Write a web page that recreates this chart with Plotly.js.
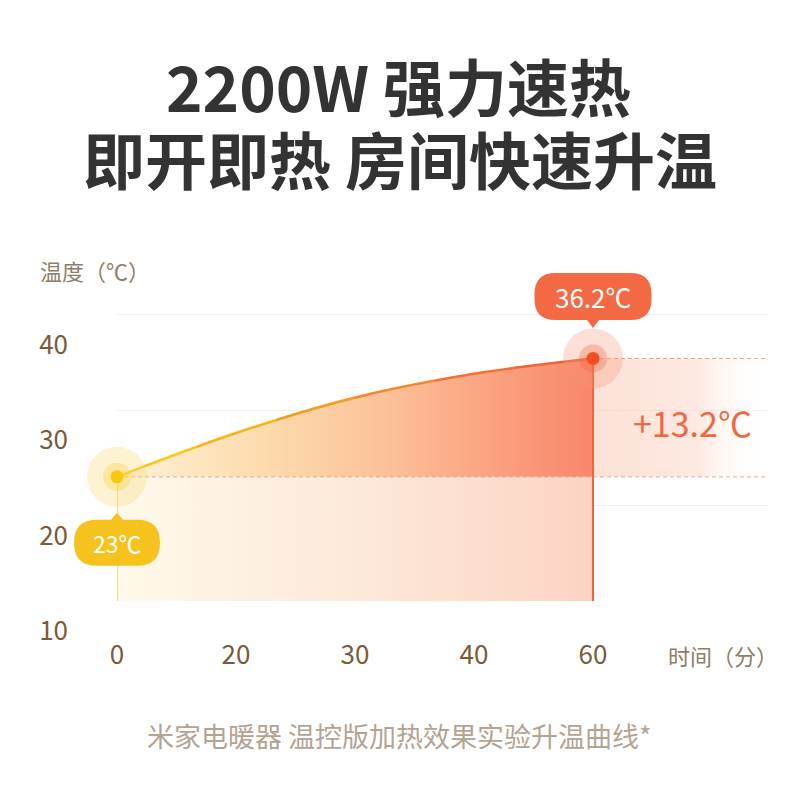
<!DOCTYPE html>
<html><head><meta charset="utf-8">
<script src="https://cdn.plot.ly/plotly-3.0.1.min.js"></script>
<style>html,body{margin:0;padding:0;background:#fff}#chart{width:800px;height:800px}</style>
</head><body><div id="chart"></div>
<script>
// ---- data ----
const timeLabels = ['0', '20', '30', '40', '60'];          // minutes (category ticks)
const temperature = [23, 27.6, 31.3, 33.8, 35.4];          // curve values
const yTickValues = [10, 20, 30, 40];
const yTickLabels = ['10', '20', '30', '40'];
const startLabel = '23℃';
const endLabel = '36.2℃';
const riseLabel = '+13.2℃';
const titleLines = ['2200W 强力速热', '即开即热 房间快速升温'];
const yTitle = '温度（℃）';
const xTitle = '时间（分）';
const footnote = '米家电暖器 温控版加热效果实验升温曲线*';

// ---- styling / layout constants ----
const FONT = '"Noto Sans CJK SC", "Noto Sans", sans-serif';
const X_MAX = 5.462;
const Y_MIN = 10, Y_MAX = 41;
const segColors = ['#f8c814', '#f7b41c', '#f69d24', '#f5862b', '#f37231', '#f26234'];

const idx = timeLabels.map((_, i) => i);
const n = idx.length;
const x0 = idx[0], xN = idx[n - 1];
const y0 = temperature[0], yN = temperature[n - 1];

const traces = [];
// lower fill (below start temperature)
traces.push({
  x: [x0, xN], y: [y0, y0], mode: 'lines', line: {width: 0},
  fill: 'tozeroy',
  fillgradient: {type: 'horizontal', colorscale: [[0, '#fef9ea'], [0.5, '#fde9da'], [1, '#fcd3c3']]},
  hoverinfo: 'skip', showlegend: false
});
// upper fill (between start level and curve)
traces.push({
  x: idx, y: temperature, mode: 'lines', line: {width: 0, shape: 'spline'},
  fill: 'tonexty',
  fillgradient: {type: 'horizontal', colorscale: [[0, '#fdf1d6'], [0.3, '#fcdcae'], [0.55, '#fcc39a'], [0.8, '#fba080'], [1, '#f8866a']]},
  hoverinfo: 'skip', showlegend: false
});
// right band showing the rise
traces.push({
  x: [xN, X_MAX], y: [y0, y0], mode: 'lines', line: {width: 0},
  hoverinfo: 'skip', showlegend: false
});
traces.push({
  x: [xN, X_MAX], y: [yN, yN], mode: 'lines', line: {width: 0},
  fill: 'tonexty',
  fillgradient: {type: 'horizontal', colorscale: [[0, 'rgba(251,205,186,0.6)'], [0.6, 'rgba(251,212,195,0.5)'], [1, 'rgba(255,255,255,0)']]},
  hoverinfo: 'skip', showlegend: false
});
// dashed reference lines
traces.push({
  x: [x0, X_MAX], y: [y0, y0], mode: 'lines',
  line: {width: 1, color: 'rgba(236,140,105,0.75)', dash: '4px,3px'},
  hoverinfo: 'skip', showlegend: false
});
traces.push({
  x: [xN, X_MAX], y: [yN, yN], mode: 'lines',
  line: {width: 1, color: 'rgba(236,120,90,0.7)', dash: '4px,3px'},
  hoverinfo: 'skip', showlegend: false
});
// vertical drop lines
traces.push({
  x: [x0, x0], y: [Y_MIN, y0], mode: 'lines',
  line: {width: 1.5, color: '#f7cf55'}, hoverinfo: 'skip', showlegend: false
});
traces.push({
  x: [xN, xN], y: [Y_MIN, yN], mode: 'lines',
  line: {width: 2, color: '#f2653a'}, hoverinfo: 'skip', showlegend: false
});

const layout = {
  width: 800, height: 800,
  margin: {l: 117, r: 33, t: 305, b: 199},
  paper_bgcolor: '#ffffff', plot_bgcolor: 'rgba(0,0,0,0)',
  showlegend: false, hovermode: false,
  font: {family: FONT},
  xaxis: {
    domain: [0, 1], range: [0, X_MAX], tickvals: idx, ticktext: timeLabels,
    showgrid: false, zeroline: false, showline: false, ticks: '',
    tickfont: {size: 26, color: '#7b5a3a', family: FONT}, ticklabelstandoff: 36
  },
  yaxis: {
    domain: [0, 1], range: [Y_MIN, Y_MAX], tickvals: yTickValues, ticktext: yTickLabels,
    showgrid: true, gridcolor: '#f3eee9', gridwidth: 1, zeroline: false, showline: false, ticks: '',
    tickfont: {size: 26, color: '#7b5a3a', family: FONT},
    ticklabelshift: 30, ticklabelstandoff: 48
  },
  shapes: [], annotations: []
};

// curve line drawn in colour segments (same scale, clipped sub-domains)
const N = segColors.length;
for (let k = 0; k < N; k++) {
  const a = xN * k / N, b = xN * (k + 1) / N;
  const id = k + 2;
  layout['xaxis' + id] = {domain: [a / X_MAX, b / X_MAX], range: [a, b], visible: false, anchor: 'y' + id, fixedrange: true};
  layout['yaxis' + id] = {domain: [0, 1], range: [Y_MIN, Y_MAX], visible: false, anchor: 'x' + id, fixedrange: true};
  traces.push({
    x: idx, y: temperature, xaxis: 'x' + id, yaxis: 'y' + id, mode: 'lines',
    line: {shape: 'spline', width: 2.6, color: segColors[k]},
    hoverinfo: 'skip', showlegend: false
  });
}
// markers on top
const mId = N + 2;
layout['xaxis' + mId] = {domain: [0, 1], range: [0, X_MAX], visible: false, anchor: 'y' + mId, fixedrange: true};
layout['yaxis' + mId] = {domain: [0, 1], range: [Y_MIN, Y_MAX], visible: false, anchor: 'x' + mId, fixedrange: true};
const ends = {x: [x0, xN], y: [y0, yN]};
[[60, ['rgba(250,222,130,0.35)', 'rgba(246,150,120,0.3)']],
 [28, ['rgba(248,205,60,0.35)', 'rgba(242,95,55,0.3)']],
 [13, ['#f8c70f', '#f24e22']]].forEach(([sz, cols]) => {
  traces.push({
    x: ends.x, y: ends.y, xaxis: 'x' + mId, yaxis: 'y' + mId, mode: 'markers',
    marker: {size: sz, color: cols, line: {width: 0}}, cliponaxis: false,
    hoverinfo: 'skip', showlegend: false
  });
});

// pills (rounded callouts) in paper coordinates anchored at the data points
function pill(cx, cy, w, h, r, tip) {
  const L = cx - w / 2, R = cx + w / 2, T = cy + h / 2, B = cy - h / 2;
  let p = `M ${L + r} ${T} `;
  if (tip === 'up') p += `L ${cx - 6} ${T} L ${cx} ${T + 7} L ${cx + 6} ${T} `;
  p += `L ${R - r} ${T} Q ${R} ${T} ${R} ${T - r} L ${R} ${B + r} Q ${R} ${B} ${R - r} ${B} `;
  if (tip === 'down') p += `L ${cx + 6} ${B} L ${cx} ${B - 8} L ${cx - 6} ${B} `;
  p += `L ${L + r} ${B} Q ${L} ${B} ${L} ${B + r} L ${L} ${T - r} Q ${L} ${T} ${L + r} ${T} Z`;
  return p;
}
const px = v => v / X_MAX;
const py = v => (v - Y_MIN) / (Y_MAX - Y_MIN);
layout.shapes.push({
  type: 'path', xref: 'paper', yref: 'paper', xsizemode: 'pixel', ysizemode: 'pixel',
  xanchor: px(x0), yanchor: py(y0), path: pill(0, -66, 86, 46, 23, 'up'),
  fillcolor: '#f6c31e', line: {width: 0}, layer: 'above'
});
layout.shapes.push({
  type: 'path', xref: 'paper', yref: 'paper', xsizemode: 'pixel', ysizemode: 'pixel',
  xanchor: px(xN), yanchor: py(yN), path: pill(0, 62, 117, 47, 21, 'down'),
  fillcolor: '#f36943', line: {width: 0}, layer: 'above'
});

const PH = 296, PW = 650, PL = 117, PB = 601;
const paperText = (cxPix, cyPix, text, font, xanchor) => ({
  x: (cxPix - PL) / PW, y: (PB - cyPix) / PH, xref: 'paper', yref: 'paper',
  xanchor: xanchor || 'center', yanchor: 'middle', text: text, showarrow: false, font: font
});
layout.annotations.push(
  {x: x0, y: y0, xref: 'x', yref: 'y', text: startLabel, showarrow: false, yshift: -66,
   xanchor: 'center', yanchor: 'middle', font: {size: 23, color: '#ffffff', family: FONT}},
  {x: xN, y: yN, xref: 'x', yref: 'y', text: endLabel, showarrow: false, yshift: 62,
   xanchor: 'center', yanchor: 'middle', font: {size: 26, color: '#ffffff', family: FONT}},
  {x: 4.84, y: 28.7, xref: 'x', yref: 'y', text: riseLabel, showarrow: false,
   xanchor: 'center', yanchor: 'middle', font: {size: 34, color: '#f06842', family: FONT}},
  paperText(38, 270, yTitle, {size: 22, color: '#8f7c6a', family: FONT}, 'left'),
  paperText(666, 655, xTitle, {size: 22, color: '#8f7c6a', family: FONT}, 'left'),
  paperText(399, 735, footnote, {size: 27, color: '#b4a393', family: FONT}),
  paperText(398, 85, '<b>' + titleLines[0] + '</b>', {size: 62, color: '#333333', family: FONT}),
  paperText(400, 158, '<b>' + titleLines[1] + '</b>', {size: 62, color: '#333333', family: FONT})
);

Plotly.newPlot('chart', traces, layout, {displayModeBar: false, staticPlot: true});
</script>
</body></html>
